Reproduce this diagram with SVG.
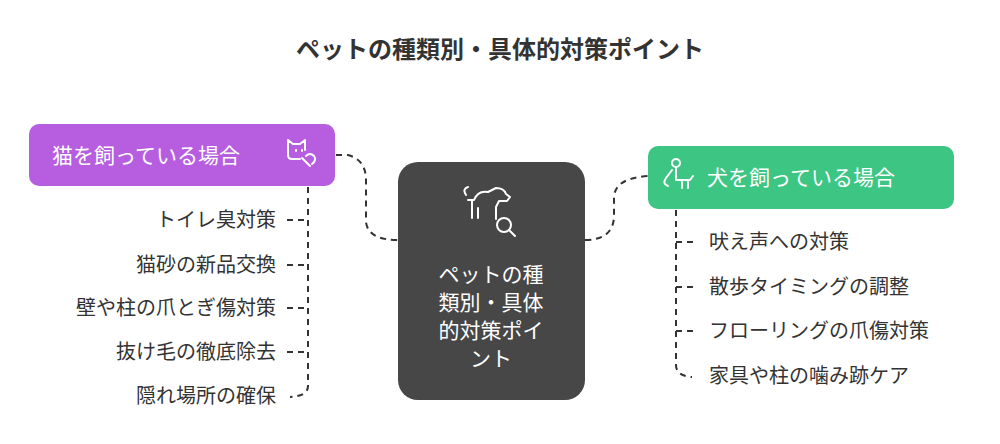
<svg xmlns="http://www.w3.org/2000/svg" width="1000" height="444" viewBox="0 0 1000 444">
<style>
text{font-family:"Noto Sans CJK JP","Noto Sans",sans-serif}
.t{font-size:24px;font-weight:bold;fill:#333}
.h{font-size:21px;fill:#fff}
.i{font-size:20px;fill:#333}
.c{fill:none;stroke:#333;stroke-width:2;stroke-dasharray:6,5}
.ic{fill:none;stroke:#fff;stroke-width:2;stroke-linecap:round;stroke-linejoin:round}
</style>
<rect width="1000" height="444" fill="#fff"/>
<text class="t" x="500" y="58" text-anchor="middle">ペットの種類別・具体的対策ポイント</text>
<g id="connectors">
<path class="c" d="M336,155 L348,155 Q366,160 366,180 L366,222 Q368,240 398,240"/>
<path class="c" d="M585,240 Q612,240 614,218 L614,196 Q616,178 648,176"/>
<path class="c" d="M308,187 L308,386 Q308,396 290,397"/>
<path class="c" d="M287,220 L308,220 M287,265 L308,265 M287,308 L308,308 M287,352 L308,352"/>
<path class="c" d="M676,210 L676,365 Q676,376 692,377"/>
<path class="c" d="M676,242 L697,242 M676,287 L697,287 M676,331 L697,331"/>
</g>
<g id="center">
<rect x="398" y="162" width="187" height="238" rx="20" fill="#474747"/>
<g class="ic">
<path d="M466,195 q-4,-6 2,-8 M468,200 l6,0 q4,-10 14,-8 l8,-4 q8,0 10,6 l4,3 l-3,4 l-8,0 l-3,6 l0,12 M472,200 l0,18 M478,208 l0,10"/>
<circle cx="504" cy="225" r="7"/><path d="M509,230 l6,6"/>
</g>
<text class="h" x="491" y="282" text-anchor="middle">ペットの種</text>
<text class="h" x="491" y="310" text-anchor="middle">類別・具体</text>
<text class="h" x="491" y="338" text-anchor="middle">的対策ポイ</text>
<text class="h" x="491" y="366" text-anchor="middle">ント</text>
</g>
<g id="cat">
<rect x="29" y="124" width="306" height="62" rx="10" fill="#b75ee0"/>
<text class="h" x="52" y="163">猫を飼っている場合</text>
<g class="ic"><path d="M288,140 l0,15 q0,4 4,4 l8,0 M288,140 l5,4 l7,0 l5,-4 l0,10 M296,150 l0,1 M302,150 l0,1 M302,158 l8,8 M306,156 q4,-4 8,0 q3,4 -2,8"/></g>
</g>
<g id="dog">
<rect x="648" y="146" width="306" height="63" rx="10" fill="#3dc584"/>
<text class="h" x="707" y="185">犬を飼っている場合</text>
<g class="ic"><circle cx="676" cy="163" r="4"/><path d="M672,170 l-6,8 q-4,6 2,8 M676,168 l0,12 l8,0 M682,182 l0,6 M688,182 l0,6 M680,180 l10,0 l3,-4"/></g>
</g>
<g id="cat-items">
<text class="i" x="276" y="227" text-anchor="end">トイレ臭対策</text>
<text class="i" x="276" y="272" text-anchor="end">猫砂の新品交換</text>
<text class="i" x="276" y="315" text-anchor="end">壁や柱の爪とぎ傷対策</text>
<text class="i" x="276" y="359" text-anchor="end">抜け毛の徹底除去</text>
<text class="i" x="276" y="403" text-anchor="end">隠れ場所の確保</text>
</g>
<g id="dog-items">
<text class="i" x="709" y="249">吠え声への対策</text>
<text class="i" x="709" y="294">散歩タイミングの調整</text>
<text class="i" x="709" y="338">フローリングの爪傷対策</text>
<text class="i" x="709" y="383">家具や柱の噛み跡ケア</text>
</g>
</svg>
